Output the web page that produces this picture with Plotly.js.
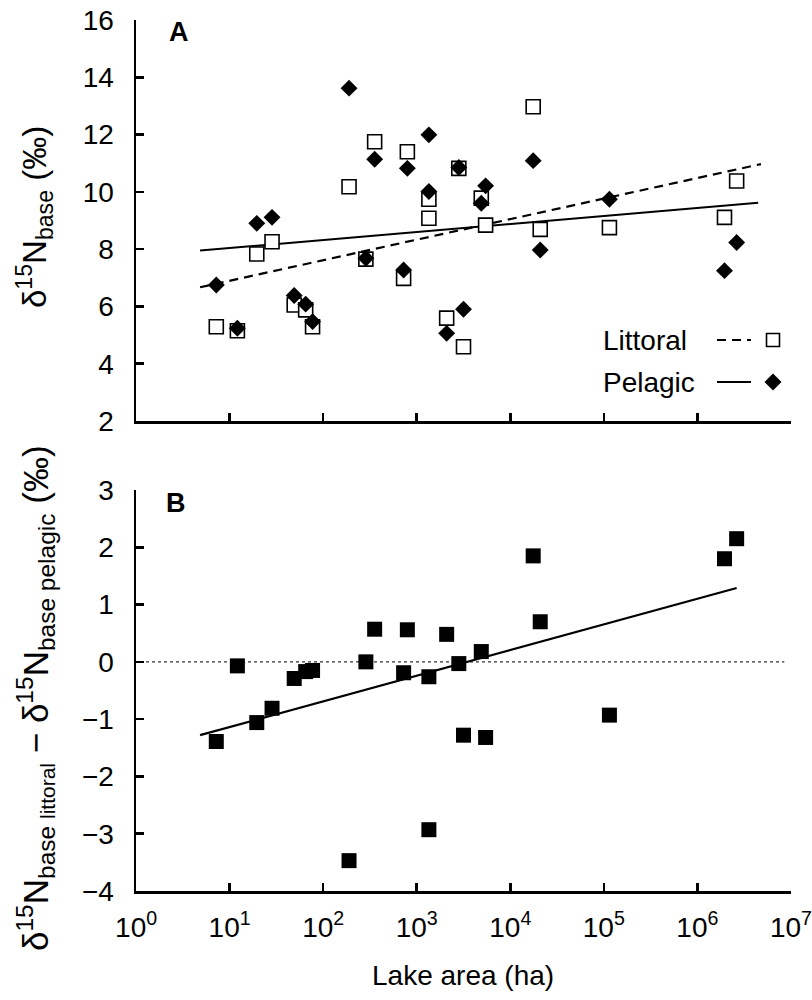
<!DOCTYPE html>
<html>
<head>
<meta charset="utf-8">
<script src="https://cdn.plot.ly/plotly-3.0.1.min.js"></script>
<style>html,body{margin:0;padding:0;background:#fff;}#chart{width:812px;height:1000px;}</style>
</head>
<body>
<div id="chart"></div>
<script>
// Lake area (ha), one entry per lake
const lakeArea = [7.2, 12.1, 19.5, 28.4, 49, 65, 77, 189, 286, 355, 724, 794, 1349, 1349, 2089, 2818, 3162, 4898, 5450, 17580, 20900, 114800, 1950000, 2630000];
// Panel A: d15N base values
const littoral = [5.29, 5.15, 7.83, 8.26, 6.05, 5.88, 5.29, 10.18, 7.65, 11.75, 6.98, 11.40, 9.74, 9.08, 5.59, 10.82, 4.59, 9.78, 8.84, 12.97, 8.69, 8.75, 9.11, 10.38];
const pelagic  = [6.75, 5.24, 8.90, 9.11, 6.38, 6.08, 5.47, 13.62, 7.68, 11.14, 7.27, 10.82, 10.01, 11.99, 5.06, 10.85, 5.90, 9.60, 10.21, 11.09, 7.97, 9.74, 7.25, 8.23];
// Panel B: littoral - pelagic difference
const difference = [-1.39, -0.07, -1.06, -0.81, -0.29, -0.17, -0.15, -3.47, 0.00, 0.57, -0.19, 0.56, -0.26, -2.93, 0.48, -0.03, -1.28, 0.18, -1.32, 1.85, 0.70, -0.93, 1.80, 2.15];
// Regression lines (end points)
const littoralFitX = [4.83, 4786000];
const littoralFitY = [6.67, 10.97];
const pelagicFitX  = [4.83, 4467000];
const pelagicFitY  = [7.95, 9.62];
const diffFitX     = [4.83, 2630000];
const diffFitY     = [-1.28, 1.29];
const zeroLineX    = [1.1, 8500000];
const zeroLineY    = [0, 0];
// Tick labels
const xTickVals = [1, 10, 100, 1000, 10000, 100000, 1000000, 10000000];
const xTickText = ['10<sup>0</sup>','10<sup>1</sup>','10<sup>2</sup>','10<sup>3</sup>','10<sup>4</sup>','10<sup>5</sup>','10<sup>6</sup>','10<sup>7</sup>'];
const yATickVals = [2, 4, 6, 8, 10, 12, 14, 16];
const yBTickVals = [-4, -3, -2, -1, 0, 1, 2, 3];
const yBTickText = ['\u22124', '\u22123', '\u22122', '\u22121', '0', '1', '2', '3'];

const FONT = 'Liberation Sans, Arial, Helvetica, sans-serif';
const W = 812, H = 1000;
const px = v => v / W;
const py = v => 1 - v / H;

const traces = [
  {x: littoralFitX, y: littoralFitY, xaxis: 'x2', yaxis: 'y', mode: 'lines',
   line: {color: '#000', width: 2.2, dash: '9px,6px'}, showlegend: false, hoverinfo: 'skip'},
  {x: pelagicFitX, y: pelagicFitY, xaxis: 'x2', yaxis: 'y', mode: 'lines',
   line: {color: '#000', width: 2}, showlegend: false, hoverinfo: 'skip'},
  {x: lakeArea, y: littoral, xaxis: 'x2', yaxis: 'y', mode: 'markers', name: 'Littoral',
   marker: {symbol: 'square', size: 14, color: '#fff', line: {color: '#000', width: 1.6}}, showlegend: false},
  {x: lakeArea, y: pelagic, xaxis: 'x2', yaxis: 'y', mode: 'markers', name: 'Pelagic',
   marker: {symbol: 'diamond', size: 13, color: '#000', line: {width: 0}}, showlegend: false},
  {x: zeroLineX, y: zeroLineY, xaxis: 'x', yaxis: 'y2', mode: 'lines',
   line: {color: '#333', width: 1.2, dash: 'dot'}, showlegend: false, hoverinfo: 'skip'},
  {x: diffFitX, y: diffFitY, xaxis: 'x', yaxis: 'y2', mode: 'lines',
   line: {color: '#000', width: 2.2}, showlegend: false, hoverinfo: 'skip'},
  {x: lakeArea, y: difference, xaxis: 'x', yaxis: 'y2', mode: 'markers', name: 'Difference',
   marker: {symbol: 'square', size: 15, color: '#000', line: {width: 0}}, showlegend: false}
];

const axisCommon = {
  showline: true, linecolor: '#000', linewidth: 2.5, mirror: false,
  ticks: 'inside', ticklen: 8, tickwidth: 2.5, tickcolor: '#000',
  showgrid: false, zeroline: false, automargin: false,
  tickfont: {family: FONT, size: 28, color: '#000'}
};

const xDomain = [px(136), px(791)];

const layout = {
  width: W, height: H,
  margin: {l: 0, r: 0, t: 0, b: 0, pad: 0},
  paper_bgcolor: '#fff', plot_bgcolor: '#fff',
  showlegend: false,
  font: {family: FONT, color: '#000'},
  xaxis: Object.assign({}, axisCommon, {
    type: 'log', range: [-0.001, 7.001], domain: xDomain, anchor: 'y2',
    tickmode: 'array', tickvals: xTickVals, ticktext: xTickText, ticklabelstandoff: 10
  }),
  xaxis2: Object.assign({}, axisCommon, {
    type: 'log', range: [-0.001, 7.001], domain: xDomain, anchor: 'y',
    tickmode: 'array', tickvals: xTickVals, showticklabels: false
  }),
  yaxis: Object.assign({}, axisCommon, {
    range: [2, 16], domain: [py(421), py(20)], anchor: 'x2',
    tickmode: 'array', tickvals: yATickVals, ticklabelstandoff: 14
  }),
  yaxis2: Object.assign({}, axisCommon, {
    range: [-4, 3], domain: [py(891), py(490)], anchor: 'x',
    tickmode: 'array', tickvals: yBTickVals, ticktext: yBTickText, ticklabelstandoff: 14
  }),
  annotations: [
    {text: '<b>A</b>', x: px(179), y: py(32), xref: 'paper', yref: 'paper', showarrow: false,
     xanchor: 'center', yanchor: 'middle', font: {family: FONT, size: 27, color: '#000'}},
    {text: '<b>B</b>', x: px(176), y: py(503), xref: 'paper', yref: 'paper', showarrow: false,
     xanchor: 'center', yanchor: 'middle', font: {family: FONT, size: 27, color: '#000'}},
    {text: 'δ<sup>15</sup>N<sub>base</sub> (‰)', x: px(35), y: py(217), xref: 'paper', yref: 'paper',
     showarrow: false, textangle: -90, xanchor: 'center', yanchor: 'middle',
     font: {family: FONT, size: 33, color: '#000'}},
    {text: 'δ<sup>15</sup>N<sub>base <span style="font-size:21px">littoral</span></sub> \u2212 δ<sup>15</sup>N<sub>base pelagic</sub> (‰)',
     x: px(35), y: py(698), xref: 'paper', yref: 'paper',
     showarrow: false, textangle: -90, xanchor: 'center', yanchor: 'middle',
     font: {family: FONT, size: 35, color: '#000'}},
    {text: 'Lake area (ha)', x: px(463), y: py(975), xref: 'paper', yref: 'paper', showarrow: false,
     xanchor: 'center', yanchor: 'middle', font: {family: FONT, size: 28, color: '#000'}},
    {text: 'Littoral', x: px(601), y: py(340), xref: 'paper', yref: 'paper', showarrow: false,
     xanchor: 'left', yanchor: 'middle', font: {family: FONT, size: 28, color: '#000'}},
    {text: 'Pelagic', x: px(601), y: py(382), xref: 'paper', yref: 'paper', showarrow: false,
     xanchor: 'left', yanchor: 'middle', font: {family: FONT, size: 28, color: '#000'}}
  ],
  shapes: [
    {type: 'line', xref: 'paper', yref: 'paper', x0: px(717), x1: px(751), y0: py(340), y1: py(340),
     line: {color: '#000', width: 2.2, dash: '9px,6px'}},
    {type: 'rect', xref: 'paper', yref: 'paper', x0: px(766.5), x1: px(779.5), y0: py(333.5), y1: py(346.5),
     fillcolor: '#fff', line: {color: '#000', width: 1.6}},
    {type: 'line', xref: 'paper', yref: 'paper', x0: px(717), x1: px(751), y0: py(382), y1: py(382),
     line: {color: '#000', width: 2}},
    {type: 'path', xref: 'paper', yref: 'paper',
     path: 'M' + px(773) + ',' + py(373.5) + ' L' + px(781.5) + ',' + py(382) + ' L' + px(773) + ',' + py(390.5) + ' L' + px(764.5) + ',' + py(382) + ' Z',
     fillcolor: '#000', line: {color: '#000', width: 0}}
  ]
};

Plotly.newPlot('chart', traces, layout, {staticPlot: true, displayModeBar: false});
</script>
</body>
</html>
